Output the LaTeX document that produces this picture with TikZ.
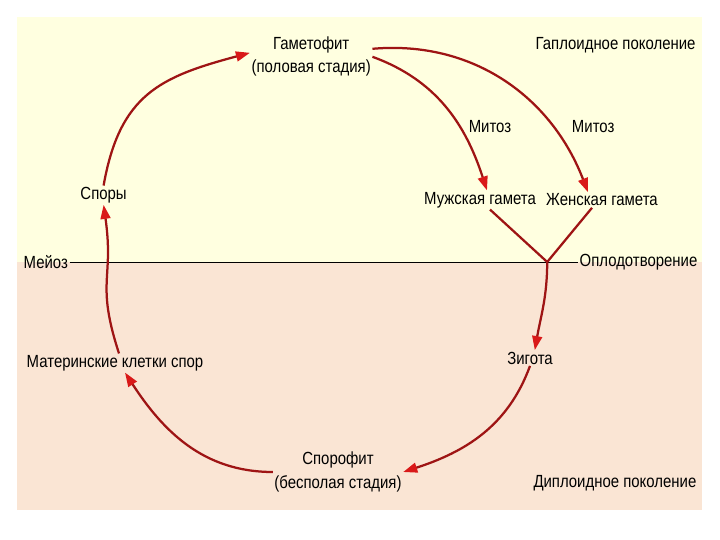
\documentclass[tikz,border=0pt]{standalone}
\usepackage{fontspec}
\setmainfont{Liberation Sans}[FakeStretch = 0.85]
\definecolor{haploid}{rgb}{1.0, 1.0, 0.88}
\definecolor{diploid}{rgb}{0.98, 0.9, 0.83}
\definecolor{cyclered}{rgb}{0.62, 0.08, 0.08}
\definecolor{tipred}{rgb}{0.85, 0.1, 0.1}
\usetikzlibrary{arrows.meta, calc}

\begin{document}
\begin{tikzpicture}[
        stage/.style = {font = \fontsize{12.5}{16.5}\selectfont, inner sep = 1pt, align = center},
        lifearrow/.style = {draw = cyclered, line width = 1.6pt, -{Triangle[length = 10pt, width = 7pt, color = tipred]}},
        fuse/.style = {draw = cyclered, line width = 1.6pt}
    ]
        \useasboundingbox (0, 0) rectangle (18, 13.5);
        \fill [haploid] (0.425, 6.95) rectangle (17.55, 13.075);
        \fill [diploid] (0.425, 0.75) rectangle (17.55, 6.95);

        \node (gametophyte) [stage] at (7.78, 12.08) {Гаметофит\\(половая стадия)};
        \node (haploid) [stage, anchor = east] at (17.43, 12.38) {Гаплоидное поколение};
        \node (mitosisa) [stage] at (12.25, 10.33) {Митоз};
        \node (mitosisb) [stage] at (14.83, 10.33) {Митоз};
        \node (male) [stage] at (12.0, 8.5) {Мужская гамета};
        \node (female) [stage] at (15.05, 8.5) {Женская гамета};
        \node (spores) [stage] at (2.59, 8.62) {Споры};
        \node (meiosis) [stage, anchor = west] at (0.55, 6.95) {Мейоз};
        \node (fertilization) [stage, anchor = west] at (14.45, 6.95) {Оплодотворение};
        \coordinate (fusion) at (13.68, 6.95);
        \node (zygote) [stage] at (13.25, 4.55) {Зигота};
        \node (mothercells) [stage] at (2.875, 4.425) {Материнские клетки спор};
        \node (sporophyte) [stage] at (8.45, 1.7) {Спорофит\\(бесполая стадия)};
        \node (diploid) [stage, anchor = east] at (17.45, 1.425) {Диплоидное поколение};

        \draw [line width = 0.6pt] (meiosis) -- (fertilization);

        \draw [lifearrow] ([xshift = 1mm] mothercells.north) to [out = 108, in = -82, looseness = 1.3] (spores.south);
        \draw [lifearrow] (spores.north) to [out = 80, in = 195, looseness = 1.2] ([yshift = 1mm] gametophyte.west);
        \draw [lifearrow] (gametophyte.east) to [out = -20, in = 108] ([xshift = 1.75mm] male.north);
        \draw [lifearrow] ([yshift = 2mm] gametophyte.east) to [out = 5, in = 111] ([xshift = -3.5mm] female.north);
        \draw [fuse] ([xshift = 2.5mm] male.south) -- (fusion);
        \draw [fuse] ([xshift = -2.5mm] female.south) -- (fusion);
        \draw [lifearrow] (fusion) to [out = -90, in = 80] ([xshift = 1.2mm] zygote.north);
        \draw [lifearrow] (zygote.south) to [out = -110, in = 18] (sporophyte.east);
        \draw [lifearrow] (sporophyte.west) to [out = 180, in = -57] ([xshift = 2.5mm] mothercells.south);
    \end{tikzpicture}
\end{document}
